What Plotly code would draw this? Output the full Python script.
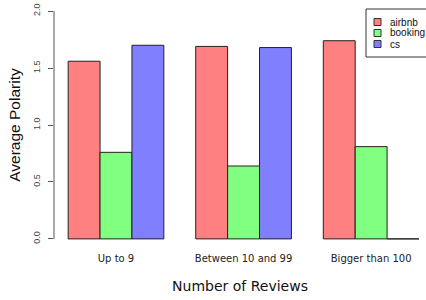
import plotly.graph_objects as go

categories = ["Up to 9", "Between 10 and 99", "Bigger than 100"]
series_names = ["airbnb", "booking", "cs"]
airbnb = [1.56, 1.69, 1.74]
booking = [0.76, 0.64, 0.81]
cs = [1.70, 1.68, 0.0]
colors = ["#FF8080", "#80FF80", "#8080FF"]
y_ticks = [0.0, 0.5, 1.0, 1.5, 2.0]
y_tick_labels = ["0.0", "0.5", "1.0", "1.5", "2.0"]

W, H = 426, 300
ML, MR, MT, MB = 54, 0, 2, 52
PW, PH = W - ML - MR, H - MT - MB


def px(x):
    return (x - ML) / PW


def py(y):
    return (H - MB - y) / PH


fig = go.Figure()
for name, vals, col in zip(series_names, [airbnb, booking, cs], colors):
    fig.add_trace(go.Bar(
        x=categories, y=vals, name=name, showlegend=False,
        marker=dict(color=col, line=dict(color="#222222", width=1)),
    ))

# hand-drawn R-style legend box
shapes = [dict(type="line", xref="paper", yref="y", x0=0, x1=0,
               y0=y_ticks[0], y1=y_ticks[-1], line=dict(color="#555", width=1)),
          dict(type="rect", xref="paper", yref="paper", x0=px(366), x1=px(440),
               y0=py(57), y1=py(9), line=dict(color="#333", width=1), fillcolor="white")]
annotations = []
for i, (name, col) in enumerate(zip(series_names, colors)):
    cy = 22 + 11 * i
    shapes.append(dict(type="rect", xref="paper", yref="paper", x0=px(374), x1=px(381),
                       y0=py(cy + 3.5), y1=py(cy - 3.5), line=dict(color="#333", width=1),
                       fillcolor=col))
    annotations.append(dict(text=name, xref="paper", yref="paper", x=px(388), y=py(cy),
                            xanchor="left", yanchor="middle", showarrow=False,
                            font=dict(family="Liberation Sans, Arial", size=10, color="#111")))

fig.update_layout(
    width=W, height=H,
    margin=dict(l=ML, r=MR, t=MT, b=MB, autoexpand=False),
    plot_bgcolor="white", paper_bgcolor="white",
    barmode="group", bargap=0.25, bargroupgap=0,
    showlegend=False,
    xaxis=dict(
        range=[-0.486, 2.43], showgrid=False, zeroline=False, showline=False,
        automargin=False, ticks="", ticklabelstandoff=3,
        tickfont=dict(family="DejaVu Sans", size=10, color="#222"),
        title=dict(text="Number of Reviews", font=dict(family="DejaVu Sans", size=14, color="#111"), standoff=18),
    ),
    yaxis=dict(
        range=[-0.08, 2.08], showgrid=False, zeroline=False, showline=False,
        automargin=False,
        tickvals=y_ticks, ticktext=y_tick_labels, ticks="outside", ticklen=5,
        tickcolor="#555", tickangle=-90, ticklabelstandoff=4,
        tickfont=dict(family="Liberation Sans, Arial", size=9, color="#444"),
        title=dict(text="Average Polarity", font=dict(family="Liberation Sans, Arial", size=15.5, color="#111"), standoff=7),
    ),
    shapes=shapes,
    annotations=annotations,
)

fig.write_html("out.html", config={"displayModeBar": False},
               post_script="document.body.style.margin='0';")
